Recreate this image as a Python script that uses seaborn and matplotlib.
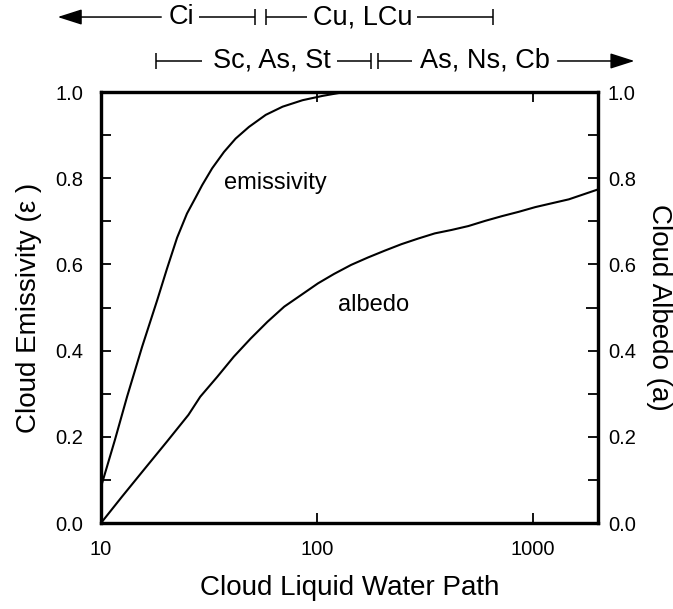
import matplotlib
matplotlib.use("Agg")
import matplotlib.pyplot as plt
import matplotlib.transforms as mtransforms
from matplotlib.ticker import NullLocator, FixedLocator
import pandas as pd
import seaborn as sns

# Cloud emissivity and albedo versus cloud liquid water path
lwp_emis = [10.0, 11.6, 13.2, 15.5, 18.2, 20.2, 22.5, 25.0, 27.4, 29.4,
            32.7, 37.1, 42.0, 48.4, 57.9, 69.3, 85.7, 106.0, 127.0]
emissivity = [0.084, 0.193, 0.293, 0.409, 0.517, 0.590, 0.662, 0.718, 0.755,
              0.784, 0.823, 0.861, 0.892, 0.919, 0.947, 0.966, 0.981, 0.991,
              0.998]

lwp_albedo = [10.0, 12.5, 16.0, 20.2, 25.4, 28.8, 34.5, 41.2, 49.3, 59.0, 70.5,
              84.4, 101.0, 120.0, 144.0, 172.0, 206.0, 246.0, 294.0, 351.0,
              420.0, 502.0, 600.0, 718.0, 858.0, 1025.0, 1225.0, 1465.0, 2000.0]
albedo = [0.0, 0.061, 0.127, 0.189, 0.251, 0.293, 0.339, 0.386, 0.428, 0.467,
          0.502, 0.529, 0.556, 0.578, 0.599, 0.616, 0.632, 0.647, 0.660, 0.672,
          0.680, 0.689, 0.701, 0.712, 0.722, 0.733, 0.742, 0.751, 0.774]

x_ticks = [10, 100, 1000]
x_tick_labels = ["10", "100", "1000"]
y_major = [0.0, 0.2, 0.4, 0.6, 0.8, 1.0]
y_minor = [0.1, 0.3, 0.5, 0.7, 0.9]

# Cloud-type ranges along the liquid water path (upper and lower rows)
upper_labels = ["Ci", "Cu, LCu"]
lower_labels = ["Sc, As, St", "As, Ns, Cb"]

sns.set_style("white")
plt.rcParams["font.family"] = ["Liberation Sans", "DejaVu Sans"]
plt.rcParams["text.color"] = "black"
plt.rcParams["axes.labelcolor"] = "black"
plt.rcParams["xtick.color"] = "black"
plt.rcParams["ytick.color"] = "black"

emis_df = pd.DataFrame({"lwp": lwp_emis, "value": emissivity})
alb_df = pd.DataFrame({"lwp": lwp_albedo, "value": albedo})

fig = plt.figure(figsize=(6.73, 6.09), dpi=100)
ax = fig.add_axes([0.1501, 0.1412, 0.7385, 0.7077])

sns.lineplot(data=emis_df, x="lwp", y="value", ax=ax, color="black", lw=1.5)
sns.lineplot(data=alb_df, x="lwp", y="value", ax=ax, color="black", lw=1.5)

ax.set_xscale("log")
ax.set_xlim(10, 2000)
ax.set_ylim(0, 1)
ax.xaxis.set_major_locator(FixedLocator(x_ticks))
ax.set_xticklabels(x_tick_labels)
ax.xaxis.set_minor_locator(NullLocator())
ax.set_yticks(y_major)
ax.set_yticks(y_minor, minor=True)
ax.set_yticklabels([f"{v:.1f}" for v in y_major])

for s in ax.spines.values():
    s.set_linewidth(2.3)
    s.set_color("black")

ax.tick_params(axis="x", which="major", direction="in", length=7, width=1.3,
               top=True, bottom=True, labelsize=14.5, pad=12, colors="black")
ax.tick_params(axis="y", which="both", direction="in", length=7.5, width=1.3,
               left=True, right=False, labelsize=14.5, pad=13, colors="black")

ax.set_xlabel("Cloud Liquid Water Path", fontsize=20, labelpad=12)
ax.set_ylabel("Cloud Emissivity (\u03b5 )", fontsize=20, labelpad=9)

ax2 = ax.twinx()
ax2.set_ylim(0, 1)
ax2.set_yticks(y_major)
ax2.set_yticks([0.1, 0.3, 0.7, 0.9], minor=True)
ax2.set_yticklabels([f"{v:.1f}" for v in y_major])
ax2.tick_params(axis="y", which="both", direction="in", length=7.5, width=1.3,
                labelsize=14.5, pad=7, colors="black")
for s in ax2.spines.values():
    s.set_linewidth(2.3)
    s.set_color("black")
ax2.set_ylabel("Cloud Albedo (a)", fontsize=20, rotation=270, labelpad=26)
# longer mark at 0.5 on the albedo axis
ax2.plot([0.975, 1.0], [0.5, 0.5], transform=ax2.transAxes, color="black",
         lw=1.3, clip_on=False, solid_capstyle="butt")

ax.text(64, 0.79, "emissivity", fontsize=17, ha="center", va="center")
ax.text(182, 0.505, "albedo", fontsize=17, ha="center", va="center")

# Cloud-type range bars above the axes
trans = mtransforms.blended_transform_factory(ax.transData, ax.transAxes)
row1, row2 = 1.174, 1.072
lk = dict(color="black", lw=1.1, transform=trans, clip_on=False,
          solid_capstyle="butt")
bar_h = 0.018
tk = dict(fontsize=19.5, ha="center", va="center", transform=trans)
ak = dict(arrowstyle="-|>,head_length=1.0,head_width=0.32", color="black",
          lw=1.1, shrinkA=0, shrinkB=0, mutation_scale=15)


def vbar(x, y):
    ax.plot([x, x], [y - bar_h, y + bar_h], **lk)


# upper row
ax.annotate("", xy=(6.3, row1), xytext=(19.0, row1), xycoords=trans,
            textcoords=trans, arrowprops=ak, annotation_clip=False)
ax.text(23.6, row1, upper_labels[0], **tk)
ax.plot([28.5, 51.5], [row1, row1], **lk)
vbar(51.5, row1)
vbar(58, row1)
ax.plot([58, 90], [row1, row1], **lk)
ax.text(162, row1, upper_labels[1], **tk)
ax.plot([290, 650], [row1, row1], **lk)
vbar(650, row1)

# lower row
vbar(18, row2)
ax.plot([18, 29.5], [row2, row2], **lk)
ax.text(62, row2, lower_labels[0], **tk)
ax.plot([124, 178], [row2, row2], **lk)
vbar(178, row2)
vbar(192, row2)
ax.plot([192, 275], [row2, row2], **lk)
ax.text(600, row2, lower_labels[1], **tk)
ax.annotate("", xy=(2950, row2), xytext=(1300, row2), xycoords=trans,
            textcoords=trans, arrowprops=ak, annotation_clip=False)

fig.savefig("out.png", dpi=100)
